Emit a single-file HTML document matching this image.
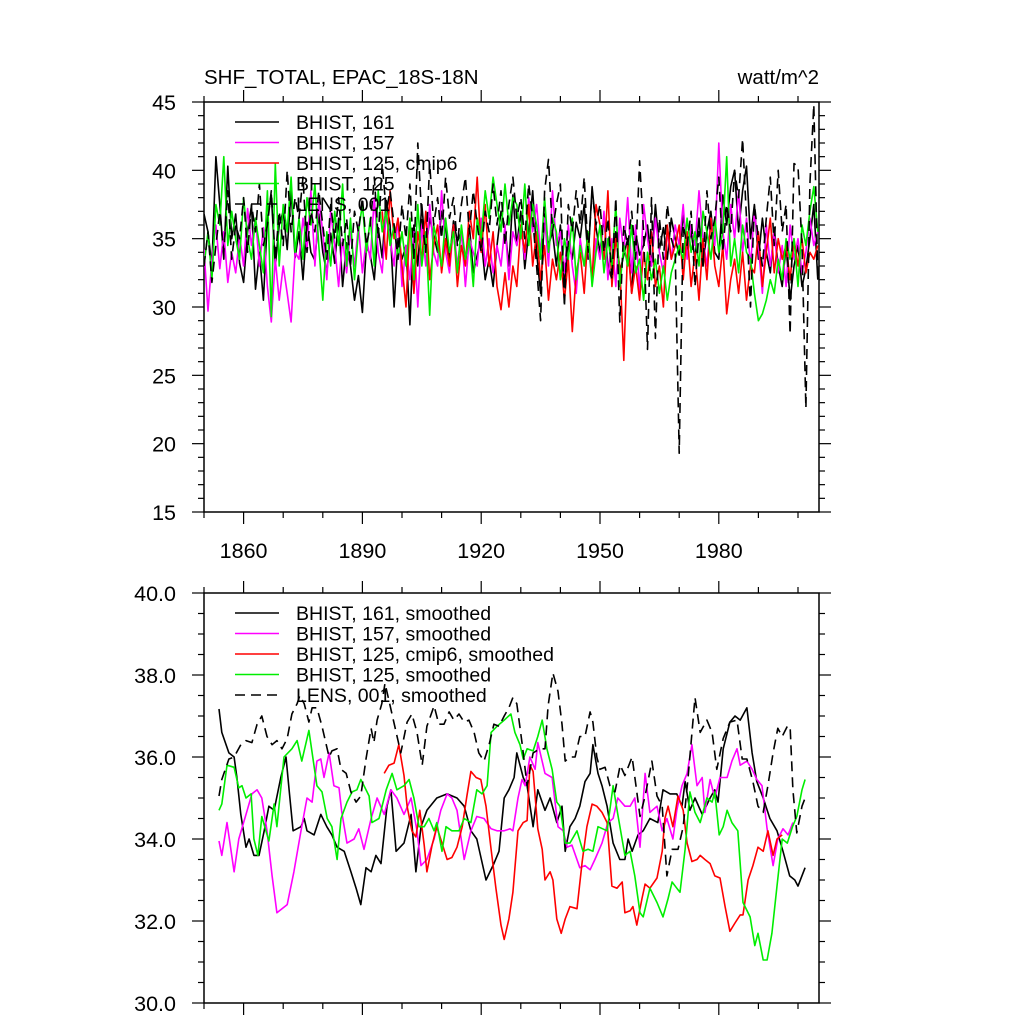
<!DOCTYPE html>
<html><head><meta charset="utf-8"><style>
html,body{margin:0;padding:0;background:#fff;}
svg{display:block;font-family:"Liberation Sans",sans-serif;}
</style></head><body>
<svg id="chart" width="1024" height="1024" viewBox="0 0 1024 1024" xmlns="http://www.w3.org/2000/svg">
<defs>
<clipPath id="clipTop"><rect x="204" y="102" width="615" height="410"/></clipPath>
<clipPath id="clipBot"><rect x="204" y="593" width="615" height="410"/></clipPath>
</defs>
<text x="204" y="84" font-size="20.5">SHF_TOTAL, EPAC_18S-18N</text>
<text x="819" y="84" font-size="20.5" text-anchor="end">watt/m^2</text>
<g id="topAxes"></g>
<g id="botAxes"></g>
<g id="topSeries" clip-path="url(#clipTop)"></g>
<g id="botSeries" clip-path="url(#clipBot)"></g>
<g id="legends"></g>
</svg>
<script>
// ---------- annual series (top panel), years 1850-2005 ----------
const firstYear = 1850;
const xTickYears = [1860, 1890, 1920, 1950, 1980];
const topYTicks = [15, 20, 25, 30, 35, 40, 45];
const botYTicks = [30, 32, 34, 36, 38, 40];
const botYLabels = ["30.0", "32.0", "34.0", "36.0", "38.0", "40.0"];

const black161 = [36.8,35.5,33.0,41.0,37.5,33.5,40.3,35.0,36.8,33.2,
31.8,35.5,37.4,31.3,34.0,30.5,36.5,38.2,33.0,36.0,
37.0,34.2,38.5,33.6,35.5,32.0,36.2,34.0,33.4,36.8,
34.0,32.5,35.4,33.2,36.5,31.5,34.7,33.0,30.5,32.3,
29.6,34.5,33.8,32.0,35.8,33.6,37.8,36.0,30.0,35.0,
33.5,34.5,28.7,36.0,33.0,37.5,34.0,36.5,35.2,34.0,
37.0,35.8,33.5,36.3,34.8,35.5,33.2,36.0,32.5,33.8,
35.0,32.0,33.5,31.5,34.5,37.0,35.8,33.0,38.2,34.5,
37.0,32.8,35.5,38.5,34.0,31.0,36.8,34.5,35.5,33.0,
36.0,31.5,34.8,33.5,36.2,35.0,37.5,33.5,38.8,35.8,
34.0,36.5,33.0,32.0,35.5,32.5,33.8,35.0,31.0,35.5,
33.8,34.5,36.0,33.0,37.5,34.2,35.8,33.5,36.5,35.0,
33.8,36.8,34.0,35.5,33.5,36.5,33.0,35.5,37.0,34.0,
33.5,38.2,36.0,38.8,40.0,35.5,38.5,40.3,35.0,37.5,
33.5,36.5,34.0,32.5,35.8,33.0,31.5,34.5,30.5,33.0,
34.5,31.5,32.8,35.0,37.5,32.0];
const magenta157 = [34.2,29.7,33.5,36.0,32.8,35.5,31.8,34.0,32.5,35.2,
33.0,37.2,34.5,36.5,33.0,35.8,31.5,28.9,33.5,30.5,
33.0,31.0,28.9,34.0,33.5,36.5,34.2,38.5,33.0,37.8,
35.5,32.0,37.0,34.5,31.5,35.0,32.5,35.5,33.0,36.0,
32.5,35.0,33.5,38.0,34.0,32.5,36.8,35.0,33.0,36.5,
31.5,34.5,32.0,35.5,30.0,36.0,33.0,37.5,34.0,33.0,
38.5,34.0,32.5,36.0,33.0,35.5,31.5,35.0,34.0,33.0,
36.5,33.0,35.0,32.5,34.5,33.0,36.0,32.0,35.5,34.5,
36.0,33.5,38.0,35.5,37.5,34.0,36.5,33.0,38.5,34.5,
35.5,32.5,36.0,33.0,31.0,35.0,33.0,34.5,32.0,35.0,
33.5,37.0,32.0,35.0,31.5,36.5,34.0,38.0,32.5,36.0,
31.0,37.5,35.0,33.0,36.5,34.0,32.5,35.5,33.5,36.0,
34.5,37.5,33.5,36.0,34.5,38.5,35.0,33.0,36.5,34.5,
42.0,35.5,33.5,37.5,35.0,38.5,34.0,36.5,33.0,37.0,
34.5,31.0,36.0,33.0,35.5,32.5,34.5,31.5,36.0,33.5,
35.0,32.5,34.0,36.5,34.5,35.5];
const redCmip6 = [null,null,null,null,null,null,null,null,null,null,
null,null,null,null,null,null,null,null,null,null,
null,null,null,null,null,null,null,null,null,null,
null,null,null,null,null,null,null,null,null,null,
null,null,null,null,null,37.0,33.5,38.5,35.0,36.5,
33.0,30.0,36.5,31.0,35.5,33.5,37.0,32.0,34.5,36.0,
32.5,35.0,33.0,36.0,31.5,34.5,33.0,37.0,35.0,39.5,
34.0,37.5,33.0,35.5,31.5,29.8,32.5,30.0,33.0,31.5,
36.0,34.0,37.5,33.0,35.5,32.0,34.5,30.5,33.5,32.0,
34.0,30.5,33.5,28.2,32.5,34.0,31.0,35.5,32.0,37.5,
36.0,33.5,38.5,31.5,35.0,33.0,26.1,34.5,31.0,33.0,
30.5,34.0,32.0,35.5,31.5,33.0,30.0,36.0,33.5,34.5,
36.0,32.0,35.5,31.5,34.0,30.5,35.0,32.0,36.5,33.0,
31.5,34.5,29.5,32.0,33.5,31.0,34.0,30.5,33.0,32.5,
35.5,31.5,34.0,36.5,32.5,35.0,33.5,34.5,32.0,35.0,
33.0,35.0,32.5,34.0,33.5,34.5];
const green125 = [33.0,35.5,32.0,37.5,36.0,41.0,34.5,37.0,35.0,33.5,
38.0,35.0,33.5,36.5,34.5,32.5,38.5,29.3,40.5,33.0,
37.5,35.5,39.5,34.0,36.5,33.5,38.0,36.0,39.0,34.5,
30.5,35.5,33.0,37.0,34.5,39.0,33.0,36.5,32.0,35.5,
37.5,34.0,36.5,33.0,38.5,35.5,37.0,34.5,36.0,33.5,
35.5,33.0,36.5,32.0,37.5,33.0,35.5,29.4,36.0,34.5,
33.0,36.5,34.0,35.5,32.5,36.0,33.5,35.0,31.5,36.5,
35.0,38.5,36.5,39.5,37.5,35.5,39.0,36.0,38.0,37.5,
35.0,39.0,34.5,37.5,36.0,33.5,38.0,34.0,36.5,35.5,
32.0,35.0,33.5,36.5,32.0,34.5,33.0,35.5,31.5,34.0,
36.0,32.5,35.0,33.0,37.5,31.5,34.5,33.0,36.0,32.5,
33.5,30.5,34.0,32.0,33.5,31.0,33.0,30.5,32.5,33.5,
34.5,33.5,36.5,34.0,35.5,33.0,37.0,35.5,33.5,36.5,
34.0,35.5,41.0,33.0,35.0,32.5,36.0,34.0,33.5,31.0,
29.0,29.5,30.5,32.0,31.0,33.5,32.0,35.0,33.5,35.0,
31.5,36.0,34.5,37.0,38.8,35.5];
const lens001 = [33.0,35.5,31.8,34.5,37.0,34.0,38.5,33.5,36.0,35.0,
38.0,34.0,37.5,35.5,39.0,34.5,36.0,38.5,33.5,37.0,
34.5,40.0,35.5,38.0,36.5,39.5,34.0,37.0,35.5,38.5,
36.0,33.5,37.5,35.0,38.0,34.5,36.5,33.0,37.0,35.5,
38.0,34.5,36.0,39.5,35.0,40.5,37.0,38.5,36.0,33.5,
37.5,35.0,39.0,33.5,42.0,36.5,34.0,40.5,36.0,38.0,
35.0,39.5,36.5,38.0,34.5,37.5,39.5,35.5,38.5,36.0,
34.0,37.0,35.5,39.0,36.0,38.5,34.5,37.5,39.5,36.5,
38.0,35.0,39.0,36.5,33.0,29.0,38.5,40.8,35.5,37.5,
39.0,30.0,37.5,35.5,38.5,36.0,39.5,34.0,38.5,36.0,
37.5,34.0,36.5,32.0,38.0,28.9,36.0,34.5,37.0,33.5,
40.7,35.5,26.9,38.0,27.7,36.5,33.5,37.5,35.0,34.0,
19.3,36.0,34.5,37.0,31.5,35.5,33.0,38.5,35.0,36.5,
39.5,34.0,37.5,35.5,40.0,38.0,42.3,36.5,30.0,37.5,
35.0,33.0,36.5,39.5,34.5,40.0,35.5,37.5,28.0,40.5,
40.3,34.5,22.6,39.0,44.8,32.2];

// ---------- smoothed series (bottom panel) ----------
const blackSmYears = [1853.8,1854.5,1856.3,1857.6,1858.3,1859.3,1860.6,1861.4,1862.6,1863.9,1865.2,1866.4,1867.7,1869.4,1870.7,1871.5,1872.5,1874.5,1875.3,1876.0,1877.8,1879.5,1881.0,1882.3,1883.6,1885.4,1887.1,1888.4,1889.6,1890.9,1892.2,1893.4,1894.7,1896.2,1897.2,1898.5,1900.5,1902.3,1903.5,1904.8,1906.3,1908.8,1911.4,1913.9,1915.7,1917.4,1918.9,1921.2,1923.2,1924.5,1925.8,1927.0,1928.3,1929.0,1930.6,1931.6,1933.1,1934.3,1936.1,1937.4,1939.1,1940.4,1941.2,1942.4,1943.7,1944.9,1946.2,1947.5,1948.2,1949.5,1950.5,1951.8,1953.3,1955.0,1956.3,1957.1,1958.1,1959.6,1960.9,1962.6,1964.6,1965.9,1967.7,1969.4,1970.7,1971.5,1972.7,1974.0,1975.8,1977.8,1979.0,1979.8,1981.1,1982.8,1984.1,1985.4,1987.1,1988.4,1989.6,1991.2,1992.9,1994.7,1996.2,1997.9,1999.2,2000.0,2001.8];
const blackSm = [37.17,36.6,36.1,36.0,35.5,34.6,33.8,34.0,33.6,33.6,34.2,34.8,34.7,35.5,36.0,35.2,34.2,34.3,34.5,34.2,34.1,34.6,34.3,34.1,33.8,33.7,33.2,32.8,32.4,33.3,33.2,33.6,33.4,34.8,35.2,33.7,33.9,34.6,33.2,34.3,34.7,35.0,35.1,35.0,34.8,34.2,34.0,33.0,33.4,33.7,35.0,35.2,35.5,36.1,35.5,35.3,34.3,35.2,34.7,35.0,34.4,34.8,33.7,34.3,34.5,34.8,35.4,35.6,36.3,35.6,35.3,34.8,33.9,33.5,33.5,34.0,33.7,34.1,34.2,34.5,34.4,35.2,35.1,35.1,34.8,35.4,34.7,35.0,34.6,35.0,35.2,34.9,36.2,36.85,37.0,36.9,37.2,36.1,35.4,35.0,34.5,34.2,33.7,33.1,33.0,32.85,33.3];
const magentaSmYears = [1853.8,1854.5,1855.8,1857.6,1858.8,1860.9,1862.1,1863.4,1864.6,1865.9,1867.2,1868.4,1869.7,1871.0,1872.7,1874.5,1876.0,1877.3,1878.5,1879.5,1880.3,1881.6,1882.8,1884.1,1884.8,1886.1,1887.9,1889.1,1890.4,1892.2,1893.7,1895.5,1897.2,1898.7,1900.5,1902.3,1903.8,1904.8,1906.3,1908.1,1909.8,1911.4,1912.6,1913.9,1915.7,1917.4,1918.9,1920.7,1922.5,1924.0,1925.8,1927.3,1928.0,1929.3,1930.3,1931.1,1932.3,1933.6,1934.3,1936.1,1937.9,1939.4,1940.7,1941.7,1942.9,1944.9,1946.2,1947.5,1948.7,1950.5,1952.0,1953.3,1954.5,1956.3,1957.6,1958.8,1960.1,1961.4,1962.6,1964.4,1965.7,1966.9,1968.4,1969.4,1970.7,1972.0,1973.2,1974.5,1975.8,1976.5,1977.8,1979.0,1980.3,1982.1,1983.3,1984.6,1985.4,1987.1,1988.4,1989.6,1990.9,1992.2,1993.7,1994.9,1996.2,1997.5,1998.7];
const magentaSm = [33.95,33.6,34.4,33.2,34.0,34.7,35.1,35.2,35.0,34.2,33.1,32.2,32.3,32.4,33.2,34.2,35.0,34.9,35.9,35.95,35.5,36.1,35.3,35.25,34.65,33.9,34.0,34.25,33.75,34.5,35.0,34.6,35.2,35.0,34.6,35.0,34.2,33.35,33.5,34.0,34.7,35.1,35.0,34.7,33.5,34.2,34.55,34.5,34.25,34.2,34.2,34.25,34.2,35.0,35.45,35.3,36.0,35.7,36.35,35.6,35.5,34.3,34.2,33.8,33.85,33.3,33.35,33.25,33.5,33.9,34.4,34.5,35.0,34.8,34.8,35.0,33.8,35.6,34.65,34.8,34.2,34.5,34.0,34.7,35.3,35.6,36.3,35.3,35.5,34.65,35.45,35.0,35.5,35.5,35.9,36.2,35.8,35.9,35.7,35.45,35.3,34.25,33.35,34.0,34.25,34.1,34.4];
const redSmYears = [1895.5,1896.7,1898.0,1899.2,1900.5,1901.3,1902.5,1903.5,1904.5,1905.6,1906.3,1907.6,1908.8,1910.1,1911.4,1912.6,1913.9,1915.2,1916.4,1917.4,1918.7,1919.9,1921.2,1922.5,1923.7,1925.0,1925.8,1927.0,1928.0,1929.3,1930.6,1931.6,1932.3,1933.1,1934.3,1935.4,1936.1,1937.4,1938.1,1939.1,1940.2,1941.2,1942.4,1944.2,1945.5,1946.7,1948.0,1949.2,1950.5,1951.8,1953.0,1954.3,1955.6,1956.3,1957.6,1958.3,1959.3,1960.6,1961.4,1962.6,1964.4,1965.7,1966.4,1967.2,1968.4,1969.7,1971.0,1972.0,1973.2,1974.5,1975.3,1976.5,1977.8,1979.0,1980.3,1981.6,1982.8,1984.1,1985.4,1986.1,1987.4,1988.6,1989.9,1991.2,1992.4,1993.7,1994.7,1996.0];
const redSm = [35.6,35.8,35.85,36.3,35.55,34.8,34.2,34.05,34.7,33.85,33.2,33.85,34.3,33.9,33.5,33.55,33.8,34.3,35.05,35.65,35.5,35.45,34.8,33.75,32.8,31.9,31.55,32.05,32.7,34.2,34.4,34.45,35.8,35.65,34.25,33.75,33.0,33.2,33.0,32.05,31.7,32.05,32.35,32.3,33.45,34.3,34.85,34.8,34.65,34.4,32.85,32.8,32.95,32.2,32.25,32.35,31.9,32.55,32.9,32.8,33.05,33.7,34.5,34.8,34.3,35.05,34.7,33.9,33.45,33.5,33.6,33.5,33.4,33.1,33.05,32.35,31.75,31.95,32.15,32.15,33.0,33.35,33.8,33.7,34.2,33.6,34.0,34.1];
const greenSmYears = [1853.8,1854.5,1855.8,1857.6,1858.8,1859.6,1860.6,1861.9,1862.6,1863.6,1864.6,1866.4,1867.7,1868.4,1870.2,1872.2,1873.5,1874.7,1876.5,1878.5,1879.8,1881.1,1882.3,1883.6,1884.6,1886.1,1887.4,1888.6,1889.6,1890.4,1891.7,1892.4,1894.2,1896.0,1897.5,1898.7,1900.5,1901.8,1903.0,1904.3,1905.6,1906.8,1908.1,1908.8,1910.1,1911.1,1912.6,1914.4,1915.7,1917.4,1918.9,1920.2,1921.5,1922.5,1924.0,1925.8,1927.5,1928.5,1929.8,1930.6,1931.6,1933.1,1934.3,1935.4,1936.6,1937.9,1939.1,1939.9,1941.2,1942.4,1944.2,1945.7,1947.0,1948.2,1949.5,1951.8,1953.3,1954.5,1956.3,1957.6,1958.8,1960.1,1960.9,1962.6,1964.4,1965.9,1967.2,1968.2,1969.4,1970.2,1971.5,1972.7,1974.0,1975.3,1977.0,1978.3,1979.0,1980.1,1981.1,1982.1,1983.3,1984.8,1986.1,1987.9,1989.1,1989.9,1991.2,1992.2,1993.4,1994.7,1996.0,1997.3,1998.6,1999.7,2001.0,2001.8];
const greenSm = [34.7,34.85,35.8,35.75,35.25,35.3,35.0,35.1,34.0,33.6,34.55,33.95,34.85,34.3,36.0,36.2,36.4,35.9,36.65,35.3,35.15,34.5,34.3,33.5,34.5,34.9,35.15,35.2,35.45,35.3,35.05,34.4,34.5,35.2,35.6,35.2,35.3,35.45,35.0,34.3,34.3,34.5,34.2,34.4,33.7,34.3,34.2,34.2,34.5,34.4,35.2,35.1,35.3,36.6,36.75,36.9,37.05,36.6,36.3,35.95,36.2,36.15,36.5,36.9,36.2,35.7,34.9,34.8,33.9,33.9,34.2,33.7,33.75,33.7,34.3,34.2,35.3,34.6,33.6,33.7,33.1,32.2,32.1,32.8,32.45,32.1,32.55,32.95,32.8,32.7,33.75,35.15,34.65,34.4,35.0,34.9,35.15,34.1,34.3,34.7,34.4,34.2,32.45,32.1,31.4,31.7,31.05,31.05,31.7,32.85,34.0,33.9,34.3,34.55,35.2,35.45];
const lensSmYears = [1853.8,1854.5,1856.3,1857.6,1859.3,1860.6,1862.1,1863.4,1864.6,1865.9,1867.2,1868.4,1869.7,1871.0,1872.2,1873.5,1874.2,1875.3,1876.5,1877.3,1878.5,1879.8,1881.6,1882.3,1883.6,1884.6,1885.9,1887.1,1888.4,1889.6,1890.9,1892.2,1892.9,1893.7,1894.9,1895.7,1899.7,1901.3,1902.5,1903.8,1905.1,1906.3,1908.1,1909.3,1910.6,1911.9,1913.1,1914.4,1915.7,1916.9,1918.2,1919.4,1920.7,1922.0,1923.2,1924.5,1925.8,1927.0,1928.0,1929.0,1930.3,1931.6,1933.1,1934.8,1936.1,1936.9,1938.1,1939.4,1940.4,1941.2,1942.4,1943.7,1944.9,1946.2,1947.5,1948.2,1949.2,1950.0,1951.3,1952.5,1953.8,1955.1,1956.3,1958.1,1959.3,1960.1,1961.4,1963.1,1964.4,1965.7,1966.9,1968.2,1969.7,1971.0,1972.2,1974.0,1975.3,1977.0,1978.3,1979.5,1981.1,1982.8,1984.6,1985.9,1987.1,1988.6,1989.9,1991.2,1992.4,1993.7,1994.9,1996.0,1997.3,1998.0,1998.7,1999.7,2001.0,2001.8];
const lensSm = [35.05,35.45,35.95,36.0,36.3,36.4,36.35,36.8,37.0,36.5,36.3,36.4,36.2,36.45,37.05,37.3,37.5,37.3,36.85,37.2,37.2,36.75,36.0,36.15,36.2,35.7,35.6,35.15,34.9,35.05,35.95,36.7,36.35,36.9,37.3,37.8,36.1,36.85,37.05,36.6,35.8,36.75,37.25,36.8,36.8,37.1,36.9,37.05,36.85,36.9,36.6,36.1,35.9,36.3,36.8,36.75,37.0,37.2,37.45,37.3,36.35,35.3,36.1,36.2,36.2,37.25,38.05,37.6,36.8,35.9,36.0,36.0,36.5,36.5,37.1,36.85,36.0,35.7,35.75,35.3,35.15,35.8,35.55,36.0,35.15,34.55,35.05,35.9,35.05,34.8,33.1,33.75,33.75,34.3,35.45,37.45,36.6,36.9,36.6,35.7,36.45,36.85,36.9,35.95,35.95,35.4,34.8,34.65,35.3,36.1,36.7,36.5,36.75,36.75,35.2,34.15,34.8,35.0];

const topLegend = ["BHIST, 161","BHIST, 157","BHIST, 125, cmip6","BHIST, 125","LENS, 001"];
const botLegend = ["BHIST, 161, smoothed","BHIST, 157, smoothed","BHIST, 125, cmip6, smoothed","BHIST, 125, smoothed","LENS, 001, smoothed"];

// ---------- scales ----------
const X0 = 204, X1 = 819, PXYR = 3.96;
function xS(yr){ return X0 + (yr - 1850) * PXYR; }
function yTop(v){ return 102 + (45 - v) * (410/30); }
function yBot(v){ return 593 + (40 - v) * 41; }

const NS = "http://www.w3.org/2000/svg";
function mk(tag, attrs, parent){
  const e = document.createElementNS(NS, tag);
  for (const k in attrs) e.setAttribute(k, attrs[k]);
  parent.appendChild(e);
  return e;
}
const colors = ["#000000","#ff00ff","#ff0000","#00ee00","#000000"];
const dashes = [null,null,null,null,"10 6"];

function drawAxes(g, yMap, yTop0, yBot0, majors, majorLabels, minorStep, vmin, vmax, showX, prefix){
  const frame = mk("rect", {x:X0, y:yTop0, width:X1-X0, height:yBot0-yTop0, fill:"none", stroke:"#000", "stroke-width":1.5}, g);
  
  
  for (let yr = 1850; yr <= 2005; yr += 10){
    const major = (yr - 1860) % 30 === 0;
    const len = major ? 12 : 6;
    const x = xS(yr);
    const t1 = mk("line", {x1:x, x2:x, y1:yBot0, y2:yBot0+len, stroke:"#000", "stroke-width":1.2}, g);
    
    
    const t2 = mk("line", {x1:x, x2:x, y1:yTop0, y2:yTop0-len, stroke:"#000", "stroke-width":1.2}, g);
    
    
  }
  if (showX){
    xTickYears.forEach(yr => {
      const t = mk("text", {x:xS(yr), y:yBot0+46, "font-size":21.5, "text-anchor":"middle"}, g);
      t.textContent = yr;
      
      
    });
  }
  for (let v = vmin; v <= vmax + 1e-9; v += minorStep){
    const y = yMap(v);
    const isMajor = majors.some(m => Math.abs(m - v) < 1e-6);
    const len = isMajor ? 12 : 6;
    const a = mk("line", {x1:X0-len, x2:X0, y1:y, y2:y, stroke:"#000", "stroke-width":1.2}, g);
    
    
    const b = mk("line", {x1:X1, x2:X1+len, y1:y, y2:y, stroke:"#000", "stroke-width":1.2}, g);
    
    
  }
  majors.forEach((v, i) => {
    const t = mk("text", {x:176, y:yMap(v)+8, "font-size":21.5, "text-anchor":"end"}, g);
    t.textContent = majorLabels[i];
    
    
  });
}
drawAxes(document.getElementById("topAxes"), yTop, 102, 512, topYTicks, topYTicks.map(String), 1, 15, 45, true, 'top');
drawAxes(document.getElementById("botAxes"), yBot, 593, 1003, botYTicks, botYLabels, 0.5, 30, 40, false, 'bottom');

function drawLine(g, xs, ys, yMap, ci, name){
  let d = "", pen = false;
  for (let i = 0; i < Math.min(xs.length, ys.length); i++){
    if (ys[i] === null){ pen = false; continue; }
    d += (pen ? "L" : "M") + xS(xs[i]).toFixed(1) + "," + yMap(ys[i]).toFixed(1);
    pen = true;
  }
  const attrs = {d:d, fill:"none", stroke:colors[ci], "stroke-width":1.6, "stroke-linejoin":"round"};
  if (dashes[ci]) attrs["stroke-dasharray"] = dashes[ci];
  const p = mk("path", attrs, g);
  
  
}
const yearsAnnual = black161.map((_, i) => firstYear + i);
const tg = document.getElementById("topSeries");
drawLine(tg, yearsAnnual, black161, yTop, 0, 'series-bhist-161');
drawLine(tg, yearsAnnual, magenta157, yTop, 1, 'series-bhist-157');
drawLine(tg, yearsAnnual, redCmip6, yTop, 2, 'series-bhist-125-cmip6');
drawLine(tg, yearsAnnual, green125, yTop, 3, 'series-bhist-125');
drawLine(tg, yearsAnnual, lens001, yTop, 4, 'series-lens-001');
const bg = document.getElementById("botSeries");
drawLine(bg, blackSmYears, blackSm, yBot, 0, 'series-bhist-161-smoothed');
drawLine(bg, magentaSmYears, magentaSm, yBot, 1, 'series-bhist-157-smoothed');
drawLine(bg, redSmYears, redSm, yBot, 2, 'series-bhist-125-cmip6-smoothed');
drawLine(bg, greenSmYears, greenSm, yBot, 3, 'series-bhist-125-smoothed');
drawLine(bg, lensSmYears, lensSm, yBot, 4, 'series-lens-001-smoothed');

function drawLegend(labels, y0, prefix){
  const g = document.getElementById("legends");
  labels.forEach((lab, i) => {
    const y = y0 + i * 20.5;
    const attrs = {x1:235, x2:279, y1:y, y2:y, stroke:colors[i], "stroke-width":1.6};
    if (dashes[i]) attrs["stroke-dasharray"] = dashes[i];
    const l = mk("line", attrs, g);
    
    
    const t = mk("text", {x:296, y:y+7, "font-size":19.5}, g);
    t.textContent = lab;
    
    
  });
}
drawLegend(topLegend, 122, 'top');
drawLegend(botLegend, 613, 'bottom');
</script>
</body></html>
